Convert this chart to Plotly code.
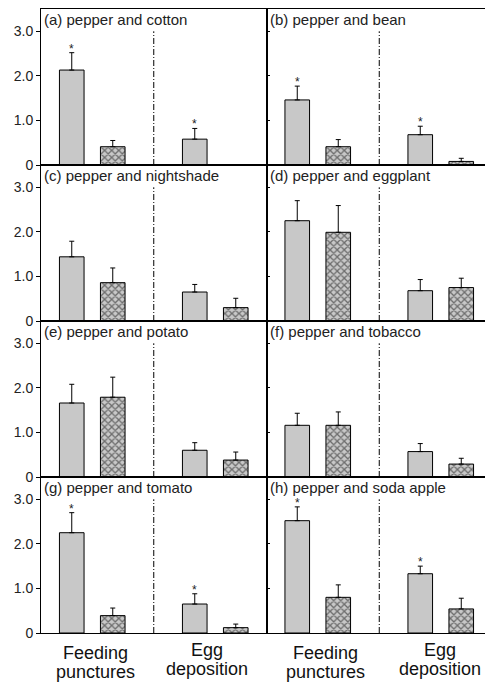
import plotly.graph_objects as go
from plotly.subplots import make_subplots

panel_titles = ["(a) pepper and cotton", "(b) pepper and bean",
                "(c) pepper and nightshade", "(d) pepper and eggplant",
                "(e) pepper and potato", "(f) pepper and tobacco",
                "(g) pepper and tomato", "(h) pepper and soda apple"]
# [feeding punctures, egg deposition]
pepper_mean = [[2.13, 0.58], [1.46, 0.68], [1.44, 0.65], [2.25, 0.68],
               [1.66, 0.60], [1.16, 0.57], [2.25, 0.65], [2.52, 1.33]]
pepper_se = [[0.39, 0.24], [0.31, 0.19], [0.35, 0.17], [0.45, 0.25],
             [0.42, 0.17], [0.27, 0.18], [0.45, 0.23], [0.31, 0.17]]
other_mean = [[0.41, None], [0.41, 0.08], [0.86, 0.30], [1.99, 0.75],
              [1.79, 0.38], [1.16, 0.29], [0.39, 0.12], [0.80, 0.54]]
other_se = [[0.14, None], [0.16, 0.07], [0.33, 0.21], [0.60, 0.21],
            [0.45, 0.18], [0.30, 0.13], [0.17, 0.08], [0.28, 0.24]]
significant = [[True, True], [True, True], [False, False], [False, False],
               [False, False], [False, False], [True, True], [True, True]]
y_tickvals = [0, 1, 2, 3]
y_ticktext = ["0", "1.0", "2.0", "3.0"]
group_labels = [["Feeding", "punctures"], ["Egg", "deposition"]]

pepper_x = [0, 3]
other_x = [1, 4]

FONT = "Liberation Sans, Arial, sans-serif"
GREY = "#c8c8c8"

fig = make_subplots(rows=4, cols=2, horizontal_spacing=0, vertical_spacing=0)

for i in range(8):
    r, c = i // 2 + 1, i % 2 + 1
    fig.add_trace(go.Bar(
        x=pepper_x, y=pepper_mean[i], width=0.6,
        marker=dict(color=GREY, line=dict(color="black", width=1)),
        error_y=dict(type="data", symmetric=False, array=pepper_se[i],
                     arrayminus=[0, 0], color="black", thickness=1, width=2.5),
        showlegend=False), row=r, col=c)
    fig.add_trace(go.Bar(
        x=other_x, y=other_mean[i], width=0.6,
        marker=dict(color=GREY, line=dict(color="black", width=1),
                    pattern=dict(shape="x", fgcolor="#111111", bgcolor=GREY,
                                 size=5, solidity=0.45)),
        error_y=dict(type="data", symmetric=False, array=other_se[i],
                     arrayminus=[0, 0], color="black", thickness=1, width=2.5),
        showlegend=False), row=r, col=c)
    xref = "x" if i == 0 else f"x{i+1}"
    yref = "y" if i == 0 else f"y{i+1}"
    fig.add_shape(type="line", x0=2, x1=2, y0=0, y1=3.0, xref=xref, yref=yref,
                  line=dict(color="black", width=1, dash="6px,2px,1px,2px"))
    fig.add_annotation(text=panel_titles[i], xref=f"{xref} domain", yref=f"{yref} domain",
                       x=0, y=1, xanchor="left", yanchor="top", xshift=1, yshift=0,
                       showarrow=False, font=dict(family=FONT, size=15, color="#222"))
    for k in range(2):
        if significant[i][k]:
            top = pepper_mean[i][k] + pepper_se[i][k]
            fig.add_annotation(text="*", x=pepper_x[k], y=top, xref=xref, yref=yref,
                               yanchor="bottom", yshift=-5, showarrow=False,
                               font=dict(family=FONT, size=12, color="#222"))
    fig.update_xaxes(range=[-0.75, 4.75], showline=True, mirror=True, linecolor="black",
                     linewidth=1, showticklabels=False, ticks="", showgrid=False,
                     zeroline=False, row=r, col=c)
    if c == 1:
        fig.update_yaxes(range=[0, 3.5], tickvals=y_tickvals, ticktext=y_ticktext,
                         ticks="outside", ticklen=4, tickcolor="black",
                         tickfont=dict(family=FONT, size=14, color="#222"),
                         row=r, col=c)
    else:
        fig.update_yaxes(range=[0, 3.5], tickvals=y_tickvals, showticklabels=False,
                         ticks="inside", ticklen=3, tickcolor="black", row=r, col=c)
    fig.update_yaxes(showline=True, mirror=True, linecolor="black", linewidth=1,
                     showgrid=False, zeroline=False, row=r, col=c)

# bottom group labels
label_pos = {"x7": [0.59, 3.31], "x8": [0.68, 3.48]}
for xr, xs in label_pos.items():
    for k in range(2):
        shifts = [-20, -39] if k == 0 else [-17, -36]
        for line_txt, ys in zip(group_labels[k], shifts):
            fig.add_annotation(text=line_txt, x=xs[k], xref=xr, y=0, yref="paper",
                               yanchor="middle", yshift=ys, showarrow=False,
                               borderpad=0,
                               font=dict(family=FONT, size=18, color="#111"))

# page body adds an 8px margin, so the figure is 8px smaller than the window
fig.update_layout(width=485, height=676, barmode="overlay",
                  margin=dict(l=33, r=1, t=1, b=51),
                  plot_bgcolor="white", paper_bgcolor="white",
                  font=dict(family=FONT))

fig.write_html("out.html")
